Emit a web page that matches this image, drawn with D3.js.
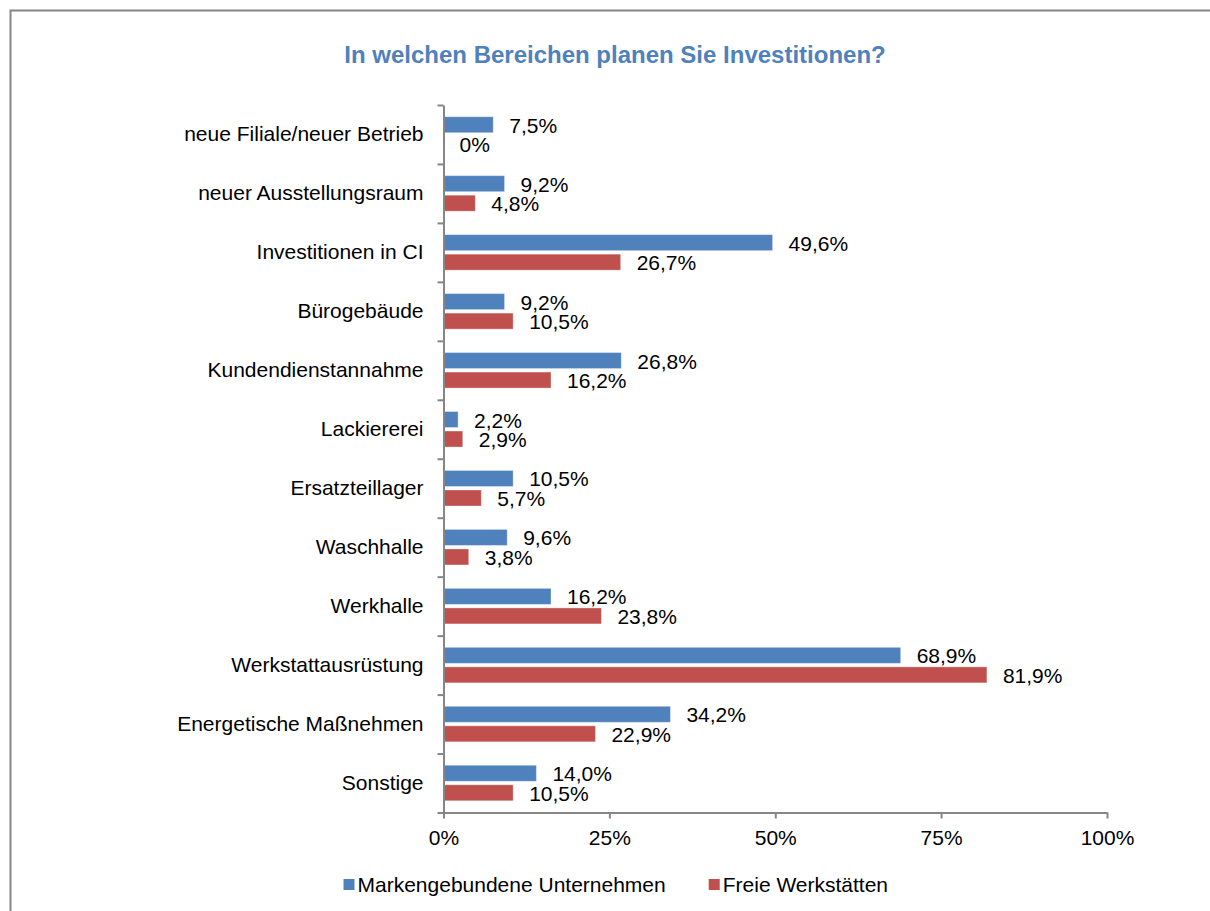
<!DOCTYPE html>
<html>
<head>
<meta charset="utf-8">
<script src="https://cdn.jsdelivr.net/npm/d3@7"></script>
<style>
  body { margin: 0; background: #fff; }
  svg text { font-family: "Liberation Sans", Arial, sans-serif; }
</style>
</head>
<body>
<svg id="chart" width="1210" height="911"></svg>
<script>
// chart data
const title = "In welchen Bereichen planen Sie Investitionen?"
const categories = [
  "neue Filiale/neuer Betrieb",
  "neuer Ausstellungsraum",
  "Investitionen in CI",
  "Bürogebäude",
  "Kundendienstannahme",
  "Lackiererei",
  "Ersatzteillager",
  "Waschhalle",
  "Werkhalle",
  "Werkstattausrüstung",
  "Energetische Maßnehmen",
  "Sonstige"
]
const seriesNames = ["Markengebundene Unternehmen", "Freie Werkstätten"]
const markengebunden = [7.5, 9.2, 49.6, 9.2, 26.8, 2.2, 10.5, 9.6, 16.2, 68.9, 34.2, 14.0]
const freie = [0, 4.8, 26.7, 10.5, 16.2, 2.9, 5.7, 3.8, 23.8, 81.9, 22.9, 10.5]
const xTicks = [0, 25, 50, 75, 100]
const colors = ["#4F81BD", "#C0504D"]

const svg = d3.select("#chart")
const fs = 21

// outer frame, only left and top edges visible
svg.append("rect")
  .attr("x", 10.5).attr("y", 10.5)
  .attr("width", 1230).attr("height", 930)
  .attr("fill", "#fff")
  .attr("stroke", "#868686").attr("stroke-width", 2)

svg.append("text")
  .attr("x", 615).attr("y", 63)
  .attr("text-anchor", "middle")
  .attr("font-size", 24).attr("font-weight", "bold")
  .attr("fill", "#4F81BD")
  .text(title)

const x = d3.scaleLinear().domain([0, 100]).range([443.5, 1107])
const y = d3.scaleBand().domain(categories).range([105, 812.5])
const ySub = d3.scaleBand().domain(seriesNames).range([0, y.bandwidth()])
  .paddingInner(0.18).paddingOuter(0.6)
const yIdx = d3.scaleLinear().domain([0, categories.length]).range([105, 812.5])

const rows = categories.map((c, i) => ({cat: c, values: [markengebunden[i], freie[i]]}))
const fmt = v => v === 0 ? "0%" : d3.format(".1f")(v).replace(".", ",") + "%"

const groups = svg.append("g").selectAll("g.row").data(rows).enter().append("g")
  .attr("class", "row")
  .attr("transform", d => `translate(0,${y(d.cat)})`)

groups.selectAll("rect").data(d => d.values.map((v, k) => ({v, k})))
  .enter().append("rect")
  .attr("x", x(0))
  .attr("y", d => ySub(seriesNames[d.k]))
  .attr("width", d => x(d.v) - x(0))
  .attr("height", ySub.bandwidth())
  .attr("fill", d => colors[d.k])
  .attr("stroke", "#fff").attr("stroke-opacity", 0.35).attr("stroke-width", 1)

groups.selectAll("text").data(d => d.values.map((v, k) => ({v, k})))
  .enter().append("text")
  .attr("x", d => x(d.v) + 16)
  .attr("y", d => ySub(seriesNames[d.k]) + ySub.bandwidth())
  .attr("font-size", fs).attr("fill", "#000")
  .text(d => fmt(d.v))

// y axis: band boundary ticks + category labels
svg.append("g").attr("transform", `translate(${x(0)},0)`)
  .call(d3.axisLeft(yIdx).tickValues(d3.range(0, categories.length + 1)).tickSize(6).tickSizeOuter(0).tickFormat(""))
svg.append("g").attr("transform", `translate(${x(0)},0)`)
  .call(d3.axisLeft(y).tickSize(0).tickPadding(20))
  .call(g => g.select(".domain").remove())
  .selectAll("text").attr("font-size", fs).attr("fill", "#000").attr("font-family", null)

// x axis
const xAxisG = svg.append("g").attr("transform", "translate(0,812.5)")
  .call(d3.axisBottom(x).tickValues(xTicks).tickSize(6).tickSizeOuter(0).tickPadding(12).tickFormat(d => d + "%"))
xAxisG.selectAll("text").attr("font-size", fs).attr("fill", "#000").attr("font-family", null)

svg.selectAll(".domain, .tick line").attr("stroke", "#868686").attr("stroke-width", 2)

// legend
const legend = svg.append("g").attr("transform", "translate(343.5,879)")
let lx = 0
seriesNames.forEach((name, k) => {
  const item = legend.append("g").attr("transform", `translate(${lx},0)`)
  item.append("rect").attr("width", 11).attr("height", 11).attr("fill", colors[k])
  const t = item.append("text").attr("x", 14).attr("y", 12.5)
    .attr("font-size", fs).attr("fill", "#000").text(name)
  lx += 14 + t.node().getComputedTextLength() + 43
})
</script>
</body>
</html>
